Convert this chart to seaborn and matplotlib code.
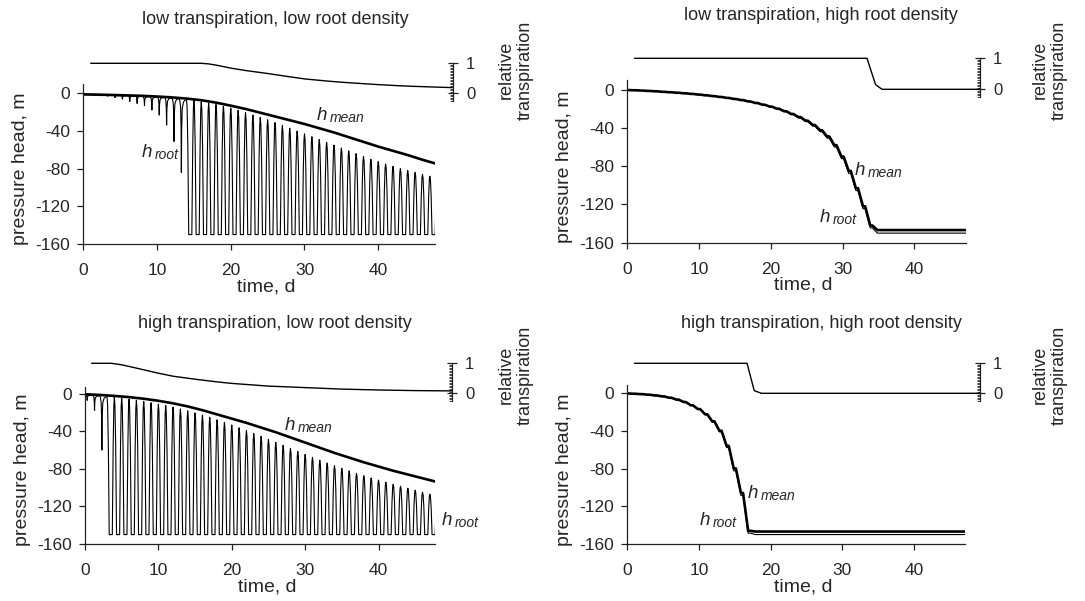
import numpy as np
import matplotlib
matplotlib.use("Agg")
import matplotlib.pyplot as plt
import seaborn as sns
from matplotlib.ticker import FixedLocator

# ---------------------------------------------------------------- data
titles = ["low transpiration, low root density",
          "low transpiration, high root density",
          "high transpiration, low root density",
          "high transpiration, high root density"]
x_ticks = [0, 10, 20, 30, 40]
y_ticks = [0, -40, -80, -120, -160]
trans_ticks = [0, 1]
wilting_point = -150

# mean soil pressure head (smooth curves, low root density), every 2 days
mean_days = [0, 2, 4, 6, 8, 10, 12, 14, 16, 18, 20, 22, 24, 26, 28, 30, 32, 34,
             36, 38, 40, 42, 44, 46, 48]
tl_mean = [-1.0, -1.3, -1.7, -2.1, -2.6, -3.3, -4.2, -5.5, -7.2, -9.8, -13.0, -16.5,
           -20.5, -24.5, -28.5, -32.5, -37.0, -41.5, -46.5, -51.5, -56.5, -61.0,
           -65.5, -70.5, -75.0]
bl_mean = [-0.5, -1.3, -2.3, -3.6, -5.3, -7.5, -10.2, -13.5, -17.5, -22.0, -26.5,
           -31.0, -36.0, -41.0, -46.5, -52.0, -57.5, -63.0, -68.0, -73.0, -77.5,
           -82.0, -86.0, -90.0, -94.0]

# root-surface pressure head: daily maxima (day 0..48) and daily minima (day 0..47)
tl_root_peak = [-1.2, -1.4, -1.6, -1.8, -2.0, -2.3, -2.5, -2.8, -3.1, -3.4, -3.8,
                -4.3, -4.9, -5.6, -6.6, -7.6, -8.8, -10.2, -11.8, -13.6, -15.6,
                -18.0, -20.5, -23.0, -25.5, -28.0, -31.0, -34.0, -37.0, -40.0,
                -43.0, -46.0, -49.0, -52.0, -55.0, -58.0, -61.0, -64.0, -67.0,
                -70.0, -72.5, -75.0, -77.5, -80.0, -82.0, -84.0, -86.0, -88.0, -90.0]
tl_root_trough = [-1.5, -2.0, -2.5, -3.0, -4.5, -6.0, -8.5, -10.6, -13.0, -17.7,
                  -23.0, -33.6, -51.0, -84.0] + [-150.0] * 34
bl_root_peak = [-0.8, -1.5, -2.2, -3.0, -3.8, -4.8, -5.8, -7.0, -8.2, -9.6, -11.0,
                -12.6, -14.3, -16.2, -18.2, -20.4, -22.7, -25.2, -27.8, -30.5, -33.3,
                -36.2, -39.2, -42.3, -45.4, -48.6, -51.8, -55.0, -58.2, -61.4, -64.6,
                -67.7, -70.8, -73.8, -76.7, -79.5, -82.2, -84.8, -87.3, -89.7, -92.0,
                -94.2, -96.4, -98.5, -100.6, -102.7, -104.8, -107.0, -109.0]
bl_root_trough = [-7.0, -17.7, -60.0] + [-150.0] * 45

# high root density: daily values (staircase), mean and root
tr_days = list(range(36))
tr_mean = [-0.5, -0.7, -1.0, -1.4, -1.8, -2.3, -2.8, -3.3, -3.9, -4.5, -5.2, -6.0,
           -6.8, -7.7, -8.7, -9.8, -11.0, -12.4, -14.0, -15.8, -17.8, -20.0, -22.6,
           -25.5, -28.8, -32.5, -37.0, -42.5, -49.0, -58.0, -70.0, -85.0, -103.0,
           -122.0, -142.0, -146.8]
tr_root = [-0.5, -0.7, -1.0, -1.4, -1.8, -2.3, -2.8, -3.3, -3.9, -4.5, -5.2, -6.0,
           -6.8, -7.7, -8.7, -9.8, -11.0, -12.4, -14.0, -15.8, -18.1, -20.4, -23.1,
           -26.1, -29.6, -33.5, -38.2, -44.0, -50.8, -60.0, -72.2, -87.5, -105.5,
           -124.5, -144.5, -150.0]
br_days = list(range(19))
br_mean = [-0.5, -0.8, -1.2, -1.8, -2.6, -3.6, -5.0, -7.0, -9.5, -13.0, -17.0,
           -22.5, -30.0, -40.0, -56.0, -80.0, -106.0, -146.0, -146.8]
br_root = [-0.5, -0.8, -1.2, -1.8, -2.6, -3.6, -5.0, -7.0, -9.5, -13.0, -17.4,
           -23.1, -30.8, -41.2, -57.8, -82.5, -108.5, -148.5, -150.0]
end_day = 48

# relative transpiration
tl_trans_t = [1, 16, 17, 18, 20, 22, 25, 28, 30, 33, 35, 38, 40, 43, 45, 50]
tl_trans = [1.0, 1.0, 0.98, 0.94, 0.84, 0.76, 0.66, 0.55, 0.48, 0.41, 0.37, 0.32,
            0.29, 0.25, 0.23, 0.19]
tr_trans_t = [1, 33.4, 34.6, 35.5, 50]
tr_trans = [1.0, 1.0, 0.15, 0.0, 0.0]
bl_trans_t = [0.9, 3.6, 5, 7, 10, 12, 15, 18, 20, 25, 30, 35, 40, 45, 50]
bl_trans = [1.0, 1.0, 0.95, 0.84, 0.67, 0.57, 0.47, 0.38, 0.33, 0.24, 0.19, 0.14,
            0.11, 0.09, 0.08]
br_trans_t = [1, 16.7, 17.7, 18.7, 50]
br_trans = [1.0, 1.0, 0.09, 0.0, 0.0]

# ------------------------------------------------------ shapes / styles
# shape of one diurnal cycle (phase in days, fraction of the daily drawdown)
DIP_PHASE = [0.0, 0.1, 0.2, 0.26, 0.3, 0.34, 0.42, 0.6, 0.8]
DIP_FRAC = [0.0, 0.03, 0.12, 0.4, 1.0, 0.4, 0.12, 0.03, 0.01]
CLAMP_PHASE = [0.0, 0.08, 0.18, 0.3, 0.72, 0.84, 0.93]
CLAMP_FRAC = [0.0, 0.06, 0.35, 1.0, 1.0, 0.35, 0.06]
STEP_START, STEP_END = 0.15, 0.85


def diurnal_path(peaks, troughs):
    ts, hs = [], []
    for k, tr in enumerate(troughs):
        ph, fr = (CLAMP_PHASE, CLAMP_FRAC) if tr <= wilting_point else (DIP_PHASE, DIP_FRAC)
        t_min = ph[fr.index(1.0)]
        for p, f in zip(ph, fr):
            ref = peaks[k] if p <= t_min else peaks[k + 1]
            ts.append(k + p)
            hs.append(ref + f * (tr - ref))
    ts.append(len(troughs))
    hs.append(peaks[len(troughs)])
    return np.array(ts), np.array(hs)


def staircase(days, values, t_end):
    ts, hs = [days[0]], [values[0]]
    for k in range(len(days) - 1):
        ts += [days[k] + STEP_START, days[k] + STEP_END]
        hs += [values[k], values[k + 1]]
    ts.append(t_end)
    hs.append(values[-1])
    return np.array(ts), np.array(hs)


sns.set_theme(style="ticks")
plt.rcParams['font.family'] = ['Liberation Sans', 'DejaVu Sans']
plt.rcParams['axes.unicode_minus'] = False

W, H = 1085, 601
fig = plt.figure(figsize=(W / 100, H / 100), dpi=100)
INK = "black"


def rect(l, r, t, b):
    return [l / W, 1 - b / H, (r - l) / W, (b - t) / H]


tl_root = diurnal_path(tl_root_peak, tl_root_trough)
bl_root = diurnal_path(bl_root_peak, bl_root_trough)
panels = [
    dict(geo=(83.3, 435, 84, 244), xmax=47.7, ytop=10, tx=452.7, T1=63.3, T0=93.3,
         title=(275, 20), rel=(516, 70),
         mean=(np.array(mean_days), np.array(tl_mean)), root=tl_root,
         trans=(tl_trans_t, tl_trans),
         hm=(317, 120), hr=(142, 157)),
    dict(geo=(627.3, 966, 80.5, 242.7), xmax=47.2, ytop=9.5, tx=980, T1=58.3, T0=89.3,
         title=(821, 15), rel=(1050, 70),
         mean=staircase(tr_days, tr_mean, end_day), root=staircase(tr_days, tr_root, end_day),
         trans=(tr_trans_t, tr_trans),
         hm=(855, 175), hr=(820, 222)),
    dict(geo=(85, 435, 386.7, 544), xmax=47.7, ytop=7.5, tx=451.7, T1=363.3, T0=393.3,
         title=(275, 324), rel=(516, 375),
         mean=(np.array(mean_days), np.array(bl_mean)), root=bl_root,
         trans=(bl_trans_t, bl_trans),
         hm=(285, 430), hr=(442, 525)),
    dict(geo=(627.3, 965, 385, 544), xmax=47.1, ytop=8.5, tx=980, T1=363.3, T0=393.3,
         title=(821, 324), rel=(1050, 375),
         mean=staircase(br_days, br_mean, end_day), root=staircase(br_days, br_root, end_day),
         trans=(br_trans_t, br_trans),
         hm=(748, 498), hr=(700, 525)),
]

for i, p in enumerate(panels):
    l, r, t, b = p["geo"]
    ax = fig.add_axes(rect(l, r, t, b))
    sns.lineplot(x=p["root"][0], y=p["root"][1], ax=ax, color=INK, linewidth=0.8,
                 sort=False, estimator=None)
    sns.lineplot(x=p["mean"][0], y=p["mean"][1], ax=ax, color=INK, linewidth=1.9,
                 sort=False, estimator=None)
    ax.set_xlim(0, p["xmax"])
    ax.set_ylim(-160, p["ytop"])
    ax.set_xticks(x_ticks)
    ax.set_yticks(y_ticks)
    sns.despine(ax=ax)
    for s in ("left", "bottom"):
        ax.spines[s].set_linewidth(0.9)
        ax.spines[s].set_color("#222222")
    ax.tick_params(axis="both", direction="out", length=4, width=0.9, color="#222222",
                   labelsize=12.5)
    ax.tick_params(axis="x", pad=10)
    ax.tick_params(axis="y", pad=5.5)
    ax.set_xlabel("time, d", fontsize=14)
    ax.set_ylabel("pressure head, m", fontsize=14)
    ax.xaxis.set_label_coords(0.52, -34 / (b - t))
    ax.yaxis.set_label_coords(-54 / (r - l), 0.47)

    # relative transpiration (small axis at the top right)
    ppd = (r - l) / p["xmax"]
    ppu = p["T0"] - p["T1"]
    tb = p["T0"] + 0.25 * ppu
    tt = p["T1"] - 0.12 * ppu
    tax = fig.add_axes(rect(l, p["tx"], tt, tb))
    tax.patch.set_visible(False)
    sns.lineplot(x=p["trans"][0], y=p["trans"][1], ax=tax, color=INK, linewidth=1.0,
                 sort=False, estimator=None)
    tax.set_xlim(0, (p["tx"] - l) / ppd)
    tax.set_ylim(-0.25, 1.12)
    for s in ("top", "left", "bottom"):
        tax.spines[s].set_visible(False)
    tax.spines["right"].set_bounds(-0.25, 1.0)
    tax.spines["right"].set_linewidth(0.9)
    tax.spines["right"].set_color("#222222")
    tax.set_xticks([])
    tax.yaxis.tick_right()
    tax.set_yticks(trans_ticks)
    tax.yaxis.set_minor_locator(FixedLocator(np.arange(-0.25, 1.0001, 0.05)))
    tax.tick_params(axis="y", which="major", direction="inout", length=7, width=0.9,
                    color="#222222", labelsize=12, pad=6)
    tax.tick_params(axis="y", which="minor", direction="in", length=2.2, width=0.6,
                    color="#222222")
    tax.set_xlabel("")
    tax.set_ylabel("")

    fig.text(p["rel"][0] / W, 1 - p["rel"][1] / H, "relative\ntranspiration",
             rotation=90, ha="center", va="center", multialignment="center",
             fontsize=13, linespacing=1.15)
    fig.text(p["title"][0] / W, 1 - p["title"][1] / H, titles[i], ha="center",
             va="center", fontsize=13)

    for (hx, hy), sub in ((p["hm"], "mean"), (p["hr"], "root")):
        fig.text(hx / W, 1 - hy / H, "h", ha="left", va="baseline", fontsize=13.5,
                 style="italic")
        fig.text((hx + 13) / W, 1 - (hy + 2) / H, sub, ha="left", va="baseline",
                 fontsize=10, style="italic")

fig.savefig("out.png", dpi=100)
